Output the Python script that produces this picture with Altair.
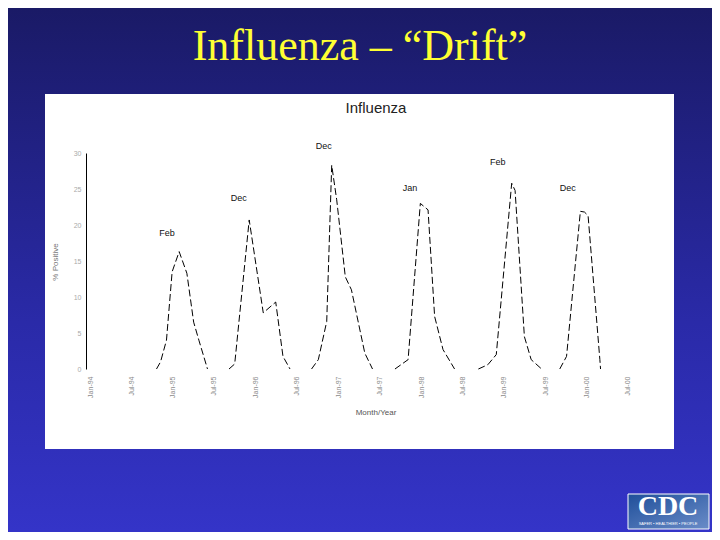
import altair as alt
import pandas as pd

# ---- data ----
s1_dates = ["1994-10-21", "1994-11-08", "1994-12-04", "1994-12-29", "1995-01-29",
            "1995-03-04", "1995-04-03", "1995-04-26", "1995-06-03"]
s1_vals = [0, 1.0, 4.0, 13.5, 16.3, 13.3, 6.5, 4.0, 0]

s2_dates = ["1995-09-06", "1995-10-01", "1995-12-04", "1996-02-04", "1996-03-30",
            "1996-05-01", "1996-06-01"]
s2_vals = [0, 0.7, 20.7, 7.8, 9.3, 1.75, 0]

s3_dates = ["1996-09-04", "1996-10-04", "1996-11-10", "1996-12-02", "1996-12-24",
            "1997-01-31", "1997-02-27", "1997-04-27", "1997-05-31"]
s3_vals = [0, 1.3, 6.6, 28.3, 23.5, 12.8, 11.0, 2.2, 0]

s4_dates = ["1997-09-07", "1997-11-04", "1997-12-28", "1998-01-31", "1998-03-01",
            "1998-04-07", "1998-05-28"]
s4_vals = [0, 1.3, 23.0, 22.1, 7.3, 2.7, 0]

s5_dates = ["1998-09-10", "1998-10-22", "1998-11-28", "1999-02-04", "1999-02-19",
            "1999-04-01", "1999-05-01", "1999-06-16"]
s5_vals = [0, 0.6, 2.0, 25.8, 24.8, 4.5, 1.3, 0]

s6_dates = ["1999-09-04", "1999-10-04", "1999-12-04", "1999-12-22", "2000-01-07",
            "2000-02-28", "2000-03-02"]
s6_vals = [0, 1.75, 21.9, 21.8, 21.3, 1.3, 0]

peak_labels = ["Feb", "Dec", "Dec", "Jan", "Feb", "Dec"]
peak_label_dates = ["1994-12-06", "1995-10-19", "1996-10-28", "1997-11-12", "1998-12-04", "1999-10-09"]
peak_label_vals = [18.9, 23.8, 31.0, 25.2, 28.8, 25.1]

y_ticks = [0, 5, 10, 15, 20, 25, 30]
x_tick_years = [1994, 1995, 1996, 1997, 1998, 1999, 2000]
x_tick_months = [1, 7]

slide_title = "Influenza \u2013 \u201cDrift\u201d"
chart_title = "Influenza"
y_title = "% Positive"
x_title = "Month/Year"

# ---- tables ----
rows = []
for i, (ds, vs) in enumerate([(s1_dates, s1_vals), (s2_dates, s2_vals), (s3_dates, s3_vals),
                              (s4_dates, s4_vals), (s5_dates, s5_vals), (s6_dates, s6_vals)]):
    for d, v in zip(ds, vs):
        rows.append({"season": f"S{i+1}", "date": d, "value": v})
df = pd.DataFrame(rows)

ann = pd.DataFrame({"date": peak_label_dates, "value": peak_label_vals, "label": peak_labels})
one = pd.DataFrame({"k": [0]})

tick_vals = [alt.DateTime(year=y, month=m, date=1, utc=True)
             for y in x_tick_years for m in x_tick_months]

W, H = 549, 216
PL, PT, PR, PB = 78, 145, 77, 163

xscale = alt.Scale(type="utc",
                   domain=[alt.DateTime(year=1993, month=12, date=14, utc=True),
                           alt.DateTime(year=2000, month=8, date=1, utc=True)])
yscale = alt.Scale(domain=[0, 30], nice=False)

x_axis = alt.Axis(values=tick_vals, labelExpr="utcFormat(datum.value, '%b-%y')",
                  labelAngle=270, labelAlign="right", labelBaseline="middle",
                  labelFontSize=7, labelColor="#8a8a8a", labelFont="Liberation Sans",
                  domain=False, ticks=False, grid=False, labelPadding=7, title=None,
                  labelOverlap=False, zindex=1)
y_axis = alt.Axis(values=y_ticks, domain=True, domainColor="black", domainWidth=1,
                  ticks=False, grid=False, labelFontSize=7, labelColor="#aaaaaa",
                  labelFont="Liberation Sans", labelPadding=5, title=None,
                  labelOverlap=False, labelFlush=False, zindex=1)

bg = alt.Chart(one).mark_rect(
    color=alt.Gradient(gradient="linear", x1=0, x2=0, y1=0, y2=1,
                       stops=[alt.GradientStop(color="#1a1a66", offset=0),
                              alt.GradientStop(color="#2a2aa8", offset=0.6),
                              alt.GradientStop(color="#3434c8", offset=1)])
).encode(x=alt.value(-PL), x2=alt.value(W + PR), y=alt.value(-PT), y2=alt.value(H + PB))

panel = alt.Chart(one).mark_rect(color="white").encode(
    x=alt.value(-41), x2=alt.value(588), y=alt.value(-59), y2=alt.value(296))

logo_box = alt.Chart(one).mark_rect(
    color=alt.Gradient(gradient="linear", x1=0, x2=1, y1=0, y2=1,
                       stops=[alt.GradientStop(color="#1f4f9a", offset=0),
                              alt.GradientStop(color="#6a8cc8", offset=1)]),
    stroke="white", strokeWidth=1
).encode(x=alt.value(542), x2=alt.value(623), y=alt.value(341), y2=alt.value(376))

logo_text = alt.Chart(one).mark_text(
    text="CDC", font="Liberation Serif", fontWeight="bold", fontSize=28, color="white",
    align="center", baseline="alphabetic"
).encode(x=alt.value(582), y=alt.value(362))

logo_tag = alt.Chart(one).mark_text(
    text="SAFER \u2022 HEALTHIER \u2022 PEOPLE", font="Liberation Sans", fontSize=4, color="white",
    align="center", baseline="middle"
).encode(x=alt.value(582), y=alt.value(371))

title_txt = alt.Chart(one).mark_text(
    text=slide_title, font="Liberation Serif", fontSize=44, color="#ffff33",
    align="center", baseline="alphabetic"
).encode(x=alt.value(274), y=alt.value(-93))

inner_title = alt.Chart(one).mark_text(
    text=chart_title, font="Liberation Sans", fontSize=15, color="#222222",
    align="center", baseline="middle"
).encode(x=alt.value(290), y=alt.value(-45))

ytitle = alt.Chart(one).mark_text(
    text=y_title, font="Liberation Sans", fontSize=8, color="#777777",
    align="center", baseline="middle", angle=270
).encode(x=alt.value(-30), y=alt.value(109))

xtitle = alt.Chart(one).mark_text(
    text=x_title, font="Liberation Sans", fontSize=8, color="#555555",
    align="center", baseline="middle"
).encode(x=alt.value(290), y=alt.value(260))

lines = alt.Chart(df).mark_line(color="black", strokeWidth=1, strokeDash=[7, 3]).encode(
    x=alt.X("date:T", scale=xscale, axis=x_axis),
    y=alt.Y("value:Q", scale=yscale, axis=y_axis),
    detail="season:N",
    order="date:T",
)

labels = alt.Chart(ann).mark_text(
    font="Liberation Sans", fontSize=9, color="#111111", align="center", baseline="middle"
).encode(x=alt.X("date:T", scale=xscale, axis=x_axis),
         y=alt.Y("value:Q", scale=yscale, axis=y_axis), text="label:N")

chart = alt.layer(
    bg, panel, logo_box, logo_text, logo_tag, title_txt, inner_title, ytitle, xtitle, lines, labels
).properties(
    width=W, height=H,
    autosize=alt.AutoSizeParams(type="none"),
    padding={"left": PL, "top": PT, "right": PR, "bottom": PB},
).configure(background="#1a1a66").configure_view(stroke=None)

chart.save("out.html", embed_options={"renderer": "svg", "actions": False})
